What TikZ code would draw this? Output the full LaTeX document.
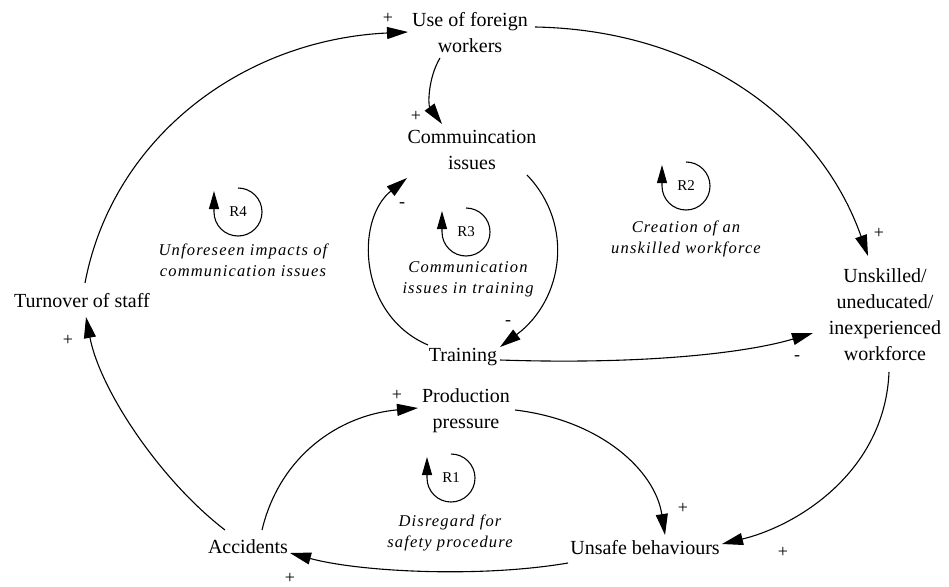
\documentclass[tikz,border=0pt]{standalone}
\usepackage{fontspec}
\setmainfont{Liberation Serif}
\usetikzlibrary{arrows.meta,calc}
\begin{document}
\begin{tikzpicture}[x=1pt,y=-1pt,
 var/.style={inner sep=0pt, align=center, font=\fontsize{20}{26}\selectfont},
 note/.style={inner sep=0pt, align=center, font=\fontsize{16.5}{21}\selectfont\itshape\addfontfeature{LetterSpace=7}},
 rlab/.style={inner sep=0pt, font=\fontsize{15}{17}\selectfont},
 sgn/.style={inner sep=0pt, font=\fontsize{18}{20}\selectfont},
 link/.style={line width=1.1pt, -{Triangle[length=21pt,width=12pt]}},
 loopar/.style={line width=1.1pt, -{Triangle[length=18pt,width=10pt]}}]
\useasboundingbox (0,0) rectangle (949,586);

% variables
\node[var] (use) at (470,33) {Use of foreign\\workers};
\node[var] (comm) at (472,150) {Commuincation\\issues};
\node[var] (turn) at (82,301) {Turnover of staff};
\node[var] (train) at (463,357) {Training};
\node[var] (prod) at (466,411) {Production\\pressure};
\node[var] (unsk) at (885,315) {Unskilled/\\uneducated/\\inexperienced\\workforce};
\node[var] (unsafe) at (645,548) {Unsafe behaviours};
\node[var] (acc) at (248,547) {Accidents};

% links
\draw[link] ($(turn)+(3,-18)$) .. controls (112,140) and (240,40) .. ($(use)+(-62,-1)$);
\draw[link] ($(use)+(65,-6)$) .. controls (700,30) and (820,120) .. ($(unsk)+(-17,-59)$);
\draw[link] ($(use)+(-30,25)$) .. controls (428,78) and (428,105) .. ($(comm)+(-30,-26)$);
\draw[link] ($(comm)+(55,25)$) .. controls (575,225) and (563,300) .. ($(train)+(37,-10)$);
\draw[link] ($(train)+(-35,-12)$) .. controls (358,315) and (355,220) .. ($(comm)+(-65,28)$);
\draw[link] ($(train)+(37,3)$) .. controls (650,365) and (750,352) .. ($(unsk)+(-72,18)$);
\draw[link] ($(unsk)+(4,57)$) .. controls (885,470) and (800,525) .. ($(unsafe)+(77,-4)$);
\draw[link] ($(unsafe)+(-77,15)$) .. controls (480,578) and (360,572) .. ($(acc)+(42,6)$);
\draw[link] ($(acc)+(-23,-17)$) .. controls (160,480) and (100,390) .. ($(turn)+(4,16)$);
\draw[link] ($(acc)+(14,-17)$) .. controls (280,455) and (340,415) .. ($(prod)+(-48,-3)$);
\draw[link] ($(prod)+(49,-1)$) .. controls (600,420) and (655,470) .. ($(unsafe)+(20,-13)$);

% polarity signs
\node[sgn] (s1) at (388,18) {+};
\node[sgn] (s2) at (416,116) {+};
\node[sgn] (s3) at (402,205) {-};
\node[sgn] (s4) at (508,323) {-};
\node[sgn] (s5) at (879,233) {+};
\node[sgn] (s6) at (797,358) {-};
\node[sgn] (s7) at (68,340) {+};
\node[sgn] (s8) at (397,395) {+};
\node[sgn] (s9) at (683,508) {+};
\node[sgn] (s10) at (783,552) {+};
\node[sgn] (s11) at (290,578) {+};

% loops
\coordinate (r4) at (238,212);
\coordinate (r3) at (466,232);
\coordinate (r2) at (686,186);
\coordinate (r1) at (451,478);
\foreach \c/\t in {r4/R4,r3/R3,r2/R2,r1/R1}{
  \draw[loopar] ($(\c)+(0,-24)$) arc[start angle=-90, end angle=180, radius=24] -- ++(0,-21);
  \node[rlab] at (\c) {\t};
}
\node[note] (n4) at (243,260) {Unforeseen impacts of\\communication issues};
\node[note] (n3) at (468,279) {Communication\\issues in training};
\node[note] (n2) at (686,239) {Creation of an\\unskilled workforce};
\node[note] (n1) at (450,533) {Disregard for\\safety procedure};
\end{tikzpicture}
\end{document}
